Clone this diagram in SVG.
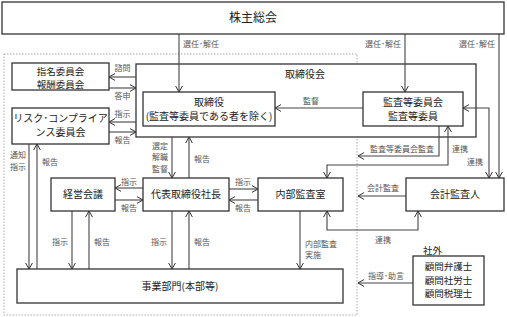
<svg xmlns="http://www.w3.org/2000/svg" width="507" height="317" viewBox="0 0 507 317">
<style>
text{font-family:"Noto Sans CJK JP","Noto Sans CJK SC",sans-serif;}
.box{fill:#fff;stroke:#333;stroke-width:1.3;}
.nt{font-size:10px;fill:#222;text-anchor:middle;}
.sm{font-size:9.5px;}
.lb{font-size:8px;fill:#555;}
.c{text-anchor:middle;}
.e{text-anchor:end;}
.ln{fill:none;stroke:#444;stroke-width:1.1;}
.ar{marker-end:url(#a);}
.ab{marker-start:url(#a);marker-end:url(#a);}
</style>
<defs>
<marker id="a" markerWidth="8" markerHeight="8" refX="6" refY="4" orient="auto-start-reverse" markerUnits="userSpaceOnUse"><path d="M0,0.6 L6,4 L0,7.4" fill="none" stroke="#333" stroke-width="1"/></marker>
</defs>
<rect width="507" height="317" fill="#fff"/>
<rect id="frame" x="4" y="54" width="353" height="261" fill="none" stroke="#aaa" stroke-width="1" stroke-dasharray="1.5,1.5"/>
<g id="board"><rect class="box" x="136" y="64" width="340" height="73"/><text class="nt" x="305" y="78">取締役会</text></g>
<g id="connectors">
<path class="ln ar" d="M179,34 V92"/><text class="lb" x="183" y="47">選任･解任</text>
<path class="ln ar" d="M405,34 V92"/><text class="lb e" x="401" y="47">選任･解任</text>
<path class="ln ar" d="M499,34 V178"/><text class="lb e" x="495" y="47">選任･解任</text>
<path class="ln ar" d="M363,108 H275"/><text class="lb c" x="311" y="104">監督</text>
<path class="ln ab" d="M463,108 H489 V178"/><text class="lb" x="467" y="165">連携</text>
<path class="ln ar" d="M439,126 V156 H358"/><text class="lb c" x="402" y="152">監査等委員会監査</text>
<path class="ln ab" d="M448,126 V165 H327 V178"/><text class="lb" x="452" y="152">連携</text>
<path class="ln ar" d="M406,196 H358"/><text class="lb c" x="383" y="191">会計監査</text>
<path class="ln ab" d="M327,211 V230 H418 V211"/><text class="lb c" x="383" y="243">連携</text>
<path class="ln ar" d="M300,211 V269"/><text class="lb" x="305" y="247">内部監査</text><text class="lb" x="305" y="258">実施</text>
<path class="ln ar" d="M413,283 H358"/><text class="lb c" x="386" y="279">指導･助言</text>
<path class="ln ar" d="M136,77 H109"/><text class="lb c" x="122.5" y="71">諮問</text>
<path class="ln ar" d="M109,88 H136"/><text class="lb c" x="122.5" y="99">答申</text>
<path class="ln ar" d="M136,122 H109"/><text class="lb c" x="122.5" y="117">指示</text>
<path class="ln ar" d="M109,132 H136"/><text class="lb c" x="122.5" y="143">報告</text>
<path class="ln ar" d="M29,144 V269"/><text class="lb" x="10" y="158">通知</text><text class="lb" x="10" y="170">指示</text>
<path class="ln ar" d="M37,269 V144"/><text class="lb" x="42" y="165">報告</text>
<path class="ln ar" d="M72,211 V269"/><text class="lb e" x="68" y="245">指示</text>
<path class="ln ar" d="M89,269 V211"/><text class="lb" x="94" y="245">報告</text>
<path class="ln ar" d="M172,211 V269"/><text class="lb e" x="167" y="245">指示</text>
<path class="ln ar" d="M189,269 V211"/><text class="lb" x="194" y="245">報告</text>
<path class="ln ar" d="M172,137 V178"/><text class="lb e" x="168" y="149">選定</text><text class="lb e" x="168" y="160">解職</text><text class="lb e" x="168" y="172">監督</text>
<path class="ln ar" d="M189,178 V137"/><text class="lb" x="194" y="162">報告</text>
<path class="ln ar" d="M143,188 H115"/><text class="lb c" x="129" y="185">指示</text>
<path class="ln ar" d="M115,200 H143"/><text class="lb c" x="129" y="211">報告</text>
<path class="ln ar" d="M229,189 H258"/><text class="lb c" x="243" y="185">指示</text>
<path class="ln ar" d="M258,200 H229"/><text class="lb c" x="243" y="211">報告</text>
</g>
<g id="shareholders"><rect class="box" x="2" y="2" width="502" height="32"/><text class="nt" x="253" y="22" style="font-size:12px">株主総会</text></g>
<g id="directors"><rect class="box" x="143" y="92" width="132" height="34"/><text class="nt" x="209" y="106">取締役</text><text class="nt" x="209" y="120">(監査等委員である者を除く)</text></g>
<g id="auditcommittee"><rect class="box" x="363" y="92" width="100" height="34"/><text class="nt" x="413" y="106">監査等委員会</text><text class="nt" x="413" y="120">監査等委員</text></g>
<g id="nomination"><rect class="box" x="12" y="63" width="97" height="27"/><text class="nt sm" x="60.5" y="74.5">指名委員会</text><text class="nt sm" x="60.5" y="87.5">報酬委員会</text></g>
<g id="risk"><rect class="box" x="12" y="108" width="97" height="36"/><text class="nt" x="60.5" y="122">リスク･コンプライア</text><text class="nt" x="60.5" y="136">ンス委員会</text></g>
<g id="management"><rect class="box" x="51" y="178" width="64" height="33"/><text class="nt" x="83" y="198">経営会議</text></g>
<g id="president"><rect class="box" x="143" y="178" width="86" height="33"/><text class="nt" x="186" y="198">代表取締役社長</text></g>
<g id="internalaudit"><rect class="box" x="258" y="178" width="85" height="33"/><text class="nt" x="300.5" y="198">内部監査室</text></g>
<g id="accountingauditor"><rect class="box" x="406" y="178" width="98" height="33"/><text class="nt" x="455" y="198">会計監査人</text></g>
<g id="divisions"><rect class="box" x="17" y="269" width="326" height="34"/><text class="nt" x="180" y="290">事業部門(本部等)</text></g>
<g id="external"><text x="423" y="254" style="font-size:9.5px;fill:#222">社外</text><rect class="box" x="413" y="256" width="71" height="49"/><text class="nt sm" x="448.5" y="270">顧問弁護士</text><text class="nt sm" x="448.5" y="283.5">顧問社労士</text><text class="nt sm" x="448.5" y="297">顧問税理士</text></g>
</svg>
